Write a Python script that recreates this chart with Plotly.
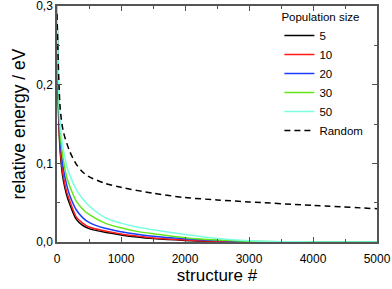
import plotly.graph_objects as go

# ---- data ----
structure = [0, 25, 50, 75, 100, 150, 200, 300, 400, 500, 750, 1000, 1250, 1500, 2000, 2500, 3000, 3500, 4000, 5000]
pop_5 = [0.30, 0.16, 0.115, 0.092, 0.078, 0.060, 0.048, 0.029, 0.021, 0.017, 0.0123, 0.009, 0.0063, 0.0043, 0.002, 0.0008, 0.0002, 0.0, 0.0, 0.0]
pop_10 = [0.30, 0.17, 0.120, 0.098, 0.083, 0.064, 0.052, 0.032, 0.024, 0.019, 0.014, 0.0102, 0.0075, 0.0052, 0.0025, 0.001, 0.0003, 0.0001, 0.0, 0.0]
pop_20 = [0.30, 0.18, 0.130, 0.108, 0.093, 0.073, 0.059, 0.041, 0.031, 0.025, 0.0174, 0.0131, 0.0098, 0.0072, 0.004, 0.0018, 0.0006, 0.0001, 0.0, 0.0]
pop_30 = [0.30, 0.19, 0.140, 0.118, 0.104, 0.083, 0.071, 0.052, 0.042, 0.035, 0.024, 0.018, 0.0135, 0.0105, 0.0055, 0.0025, 0.001, 0.0003, 0.0001, 0.0]
pop_50 = [0.30, 0.20, 0.150, 0.130, 0.117, 0.097, 0.085, 0.067, 0.055, 0.046, 0.031, 0.024, 0.019, 0.0155, 0.0095, 0.0045, 0.0015, 0.0004, 0.0001, 0.0]
random_x = [0, 50, 100, 200, 300, 400, 500, 750, 1000, 1500, 2000, 2500, 3000, 4000, 5000]
random_y = [0.29, 0.17, 0.14, 0.115, 0.099, 0.089, 0.083, 0.0746, 0.0695, 0.062, 0.0565, 0.0535, 0.051, 0.0465, 0.0423]

series_names = ["5", "10", "20", "30", "50"]
series_colors = ["#000000", "#ff1a1a", "#1a3dff", "#66e61a", "#7affe0"]

x_tickvals = [0, 1000, 2000, 3000, 4000, 5000]
x_ticktext = ["0", "1000", "2000", "3000", "4000", "5000"]
y_tickvals = [0.0, 0.1, 0.2, 0.3]
y_ticktext = ["0,0", "0,1", "0,2", "0,3"]

fig = go.Figure()
for name, color, vals in zip(series_names, series_colors, [pop_5, pop_10, pop_20, pop_30, pop_50]):
    fig.add_trace(go.Scatter(x=structure, y=vals, mode="lines", name=name,
                             line=dict(color=color, width=1.5, shape="spline", smoothing=0.8)))
fig.add_trace(go.Scatter(x=random_x, y=random_y, mode="lines", name="Random",
                         line=dict(color="black", width=1.5, dash="6px,4px", shape="spline", smoothing=0.8)))

font_family = "Liberation Sans, Arial, sans-serif"
axis_common = dict(showline=True, linecolor="#555555", linewidth=1.5, mirror="ticks",
                   ticks="inside", ticklen=5, tickwidth=1.2, tickcolor="#555555",
                   showgrid=False, zeroline=False, automargin=False,
                   ticklabeloverflow="allow",
                   tickfont=dict(family=font_family, size=12, color="black"))

fig.update_layout(
    width=392, height=289,
    margin=dict(l=57, r=15, t=6, b=47, autoexpand=False),
    paper_bgcolor="white", plot_bgcolor="white",
    font=dict(family=font_family, color="black"),
    showlegend=True,
    legend=dict(x=0.695, y=1.0, xanchor="left", yanchor="top",
                title=dict(text="Population size", font=dict(size=11.5)),
                font=dict(size=11.5), bgcolor="rgba(0,0,0,0)",
                tracegroupgap=0, itemwidth=30),
    xaxis=dict(range=[0, 5000], tickvals=x_tickvals, ticktext=x_ticktext,
               minor=dict(ticks="inside", ticklen=3, dtick=500, tickcolor="#555555"),
               title=dict(text="structure #", font=dict(size=17), standoff=4),
               ticklabelstandoff=5,
               **axis_common),
    yaxis=dict(range=[0, 0.3], tickvals=y_tickvals, ticktext=y_ticktext,
               minor=dict(ticks="inside", ticklen=3, dtick=0.05, tickcolor="#555555"),
               title=dict(text="relative energy / eV", font=dict(size=17.5), standoff=6),
               **axis_common),
)

fig.write_html("out.html", config={"displayModeBar": False},
               post_script="document.body.style.margin='0';document.body.style.overflow='hidden';")
